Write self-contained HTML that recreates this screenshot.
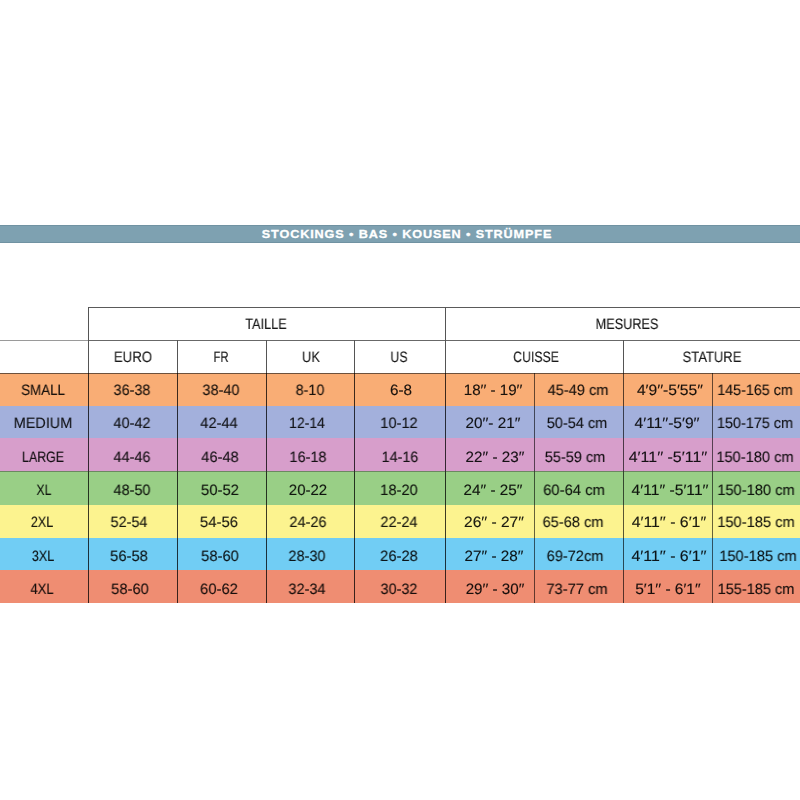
<!DOCTYPE html>
<html><head><meta charset="utf-8"><style>
html,body{margin:0;padding:0;background:#fff;width:800px;height:800px;overflow:hidden;position:relative}
div{position:absolute}
.t{position:absolute;width:300px;height:20px;line-height:20px;text-align:center;white-space:nowrap;text-rendering:geometricPrecision;font-family:"Liberation Sans",sans-serif;transform-origin:150px 50%;color:rgba(0,0,0,0.9);-webkit-text-stroke:0.2px rgba(0,0,0,0.65);will-change:transform}
.ban{position:absolute;left:106.6px;-webkit-text-stroke:0.3px #fff;width:600px;top:226px;height:16px;line-height:16px;text-align:center;color:#fff;font-family:"Liberation Sans",sans-serif;font-weight:bold;font-size:11.5px;letter-spacing:0.8px;transform:scaleX(1.1);transform-origin:300px 50%}
</style></head><body>
<div style="left:0px;top:224.7px;width:800px;height:18.1px;background:#7ea1b1;box-shadow:inset 0 1px 0 rgba(60,90,105,0.2),inset 0 -1px 0 rgba(60,90,105,0.2)"></div>
<span class="ban">STOCKINGS • BAS • KOUSEN • STRÜMPFE</span>
<div style="left:0px;top:373.1px;width:800px;height:33.5px;background:#f9ad75;"></div>
<div style="left:0px;top:405.9px;width:800px;height:33px;background:#a3b0dc;"></div>
<div style="left:0px;top:438.2px;width:800px;height:33.9px;background:#d79ecb;"></div>
<div style="left:0px;top:471.4px;width:800px;height:34px;background:#99cf86;"></div>
<div style="left:0px;top:504.7px;width:800px;height:33.9px;background:#fcf38f;"></div>
<div style="left:0px;top:537.9px;width:800px;height:33.2px;background:#71cdf4;"></div>
<div style="left:0px;top:570.4px;width:800px;height:32.3px;background:#ef8d72;"></div>
<div style="left:88px;top:307px;width:712px;height:1px;background:#5a5a5a;"></div>
<div style="left:0px;top:340px;width:88px;height:1px;background:#9a9a9a;"></div>
<div style="left:88px;top:340px;width:712px;height:1px;background:#686868;"></div>
<div style="left:0px;top:372.5px;width:800px;height:1px;background:#4a3a30;opacity:0.8"></div>
<div style="left:88px;top:307px;width:1px;height:66px;background:#555;"></div>
<div style="left:88px;top:373px;width:1px;height:230px;background:rgba(0,0,0,0.76);"></div>
<div style="left:177px;top:340px;width:1px;height:33px;background:#555;"></div>
<div style="left:177px;top:373px;width:1px;height:230px;background:rgba(0,0,0,0.76);"></div>
<div style="left:266px;top:340px;width:1px;height:33px;background:#555;"></div>
<div style="left:266px;top:373px;width:1px;height:230px;background:rgba(0,0,0,0.76);"></div>
<div style="left:354px;top:340px;width:1px;height:33px;background:#555;"></div>
<div style="left:354px;top:373px;width:1px;height:230px;background:rgba(0,0,0,0.76);"></div>
<div style="left:445px;top:307px;width:1px;height:66px;background:#555;"></div>
<div style="left:445px;top:373px;width:1px;height:230px;background:rgba(0,0,0,0.76);"></div>
<div style="left:623px;top:340px;width:1px;height:33px;background:#555;"></div>
<div style="left:623px;top:373px;width:1px;height:230px;background:rgba(0,0,0,0.65);"></div>
<div style="left:534px;top:373px;width:1px;height:230px;background:rgba(0,0,0,0.6);"></div>
<div style="left:712px;top:373px;width:1px;height:230px;background:rgba(0,0,0,0.6);"></div>
<div style="left:0px;top:471px;width:800px;height:1px;background:#333;opacity:0.45"></div>
<span class="t" style="left:115.68px;top:315.20px;font-size:15.0px;transform:scaleX(0.8454)">TAILLE</span>
<span class="t" style="left:477.41px;top:315.20px;font-size:15.0px;transform:scaleX(0.8476)">MESURES</span>
<span class="t" style="left:-17.30px;top:348.00px;font-size:15.0px;transform:scaleX(0.8781)">EURO</span>
<span class="t" style="left:71.13px;top:348.00px;font-size:15.0px;transform:scaleX(0.7467)">FR</span>
<span class="t" style="left:161.40px;top:348.00px;font-size:15.0px;transform:scaleX(0.8499)">UK</span>
<span class="t" style="left:249.06px;top:348.00px;font-size:15.0px;transform:scaleX(0.8219)">US</span>
<span class="t" style="left:385.99px;top:348.00px;font-size:15.0px;transform:scaleX(0.8176)">CUISSE</span>
<span class="t" style="left:561.73px;top:348.00px;font-size:15.0px;transform:scaleX(0.8644)">STATURE</span>
<span class="t" style="left:-106.70px;top:380.80px;font-size:15.0px;transform:scaleX(0.8914)">SMALL</span>
<span class="t" style="left:-107.50px;top:413.90px;font-size:15.0px;transform:scaleX(0.9575)">MEDIUM</span>
<span class="t" style="left:-106.57px;top:447.50px;font-size:15.0px;transform:scaleX(0.8218)">LARGE</span>
<span class="t" style="left:-106.09px;top:481.10px;font-size:15.0px;transform:scaleX(0.8135)">XL</span>
<span class="t" style="left:-107.61px;top:513.20px;font-size:15.0px;transform:scaleX(0.8405)">2XL</span>
<span class="t" style="left:-107.24px;top:546.70px;font-size:15.0px;transform:scaleX(0.8387)">3XL</span>
<span class="t" style="left:-107.96px;top:579.50px;font-size:15.0px;transform:scaleX(0.8730)">4XL</span>
<span class="t" style="left:-18.00px;top:380.80px;font-size:15.0px;transform:scaleX(0.9601)">36-38</span>
<span class="t" style="left:-17.92px;top:413.90px;font-size:15.0px;transform:scaleX(0.9661)">40-42</span>
<span class="t" style="left:-17.86px;top:447.50px;font-size:15.0px;transform:scaleX(0.9653)">44-46</span>
<span class="t" style="left:-18.25px;top:481.10px;font-size:15.0px;transform:scaleX(0.9642)">48-50</span>
<span class="t" style="left:-20.73px;top:513.20px;font-size:15.0px;transform:scaleX(0.9610)">52-54</span>
<span class="t" style="left:-20.85px;top:546.70px;font-size:15.0px;transform:scaleX(0.9826)">56-58</span>
<span class="t" style="left:-19.71px;top:579.50px;font-size:15.0px;transform:scaleX(0.9801)">58-60</span>
<span class="t" style="left:70.87px;top:380.80px;font-size:15.0px;transform:scaleX(0.9666)">38-40</span>
<span class="t" style="left:69.06px;top:413.90px;font-size:15.0px;transform:scaleX(0.9738)">42-44</span>
<span class="t" style="left:69.71px;top:447.50px;font-size:15.0px;transform:scaleX(0.9767)">46-48</span>
<span class="t" style="left:69.50px;top:481.10px;font-size:15.0px;transform:scaleX(0.9890)">50-52</span>
<span class="t" style="left:69.26px;top:513.20px;font-size:15.0px;transform:scaleX(0.9897)">54-56</span>
<span class="t" style="left:69.54px;top:546.70px;font-size:15.0px;transform:scaleX(0.9814)">58-60</span>
<span class="t" style="left:69.22px;top:579.50px;font-size:15.0px;transform:scaleX(0.9863)">60-62</span>
<span class="t" style="left:159.77px;top:380.80px;font-size:15.0px;transform:scaleX(0.9548)">8-10</span>
<span class="t" style="left:157.35px;top:413.90px;font-size:15.0px;transform:scaleX(0.9316)">12-14</span>
<span class="t" style="left:158.11px;top:447.50px;font-size:15.0px;transform:scaleX(0.9663)">16-18</span>
<span class="t" style="left:158.24px;top:481.10px;font-size:15.0px;transform:scaleX(0.9999)">20-22</span>
<span class="t" style="left:157.75px;top:513.20px;font-size:15.0px;transform:scaleX(0.9657)">24-26</span>
<span class="t" style="left:156.86px;top:546.70px;font-size:15.0px;transform:scaleX(0.9659)">28-30</span>
<span class="t" style="left:157.26px;top:579.50px;font-size:15.0px;transform:scaleX(0.9660)">32-34</span>
<span class="t" style="left:250.83px;top:380.80px;font-size:15.0px;transform:scaleX(1.0146)">6-8</span>
<span class="t" style="left:249.16px;top:413.90px;font-size:15.0px;transform:scaleX(0.9728)">10-12</span>
<span class="t" style="left:249.59px;top:447.50px;font-size:15.0px;transform:scaleX(0.9556)">14-16</span>
<span class="t" style="left:249.17px;top:481.10px;font-size:15.0px;transform:scaleX(0.9769)">18-20</span>
<span class="t" style="left:249.15px;top:513.20px;font-size:15.0px;transform:scaleX(0.9653)">22-24</span>
<span class="t" style="left:248.96px;top:546.70px;font-size:15.0px;transform:scaleX(0.9812)">26-28</span>
<span class="t" style="left:249.15px;top:579.50px;font-size:15.0px;transform:scaleX(0.9608)">30-32</span>
<span class="t" style="left:342.90px;top:380.80px;font-size:15.0px;transform:scaleX(1.0096)">18′′ - 19′′</span>
<span class="t" style="left:343.25px;top:413.90px;font-size:15.0px;transform:scaleX(1.0223)">20′′- 21′′</span>
<span class="t" style="left:344.54px;top:447.50px;font-size:15.0px;transform:scaleX(1.0150)">22′′ - 23′′</span>
<span class="t" style="left:342.81px;top:481.10px;font-size:15.0px;transform:scaleX(1.0161)">24′′ - 25′′</span>
<span class="t" style="left:343.59px;top:513.20px;font-size:15.0px;transform:scaleX(1.0343)">26′′ - 27′′</span>
<span class="t" style="left:344.07px;top:546.70px;font-size:15.0px;transform:scaleX(1.0173)">27′′ - 28′′</span>
<span class="t" style="left:344.54px;top:579.50px;font-size:15.0px;transform:scaleX(1.0127)">29′′ - 30′′</span>
<span class="t" style="left:427.78px;top:380.80px;font-size:15.0px;transform:scaleX(0.9738)">45-49 cm</span>
<span class="t" style="left:426.50px;top:413.90px;font-size:15.0px;transform:scaleX(0.9668)">50-54 cm</span>
<span class="t" style="left:424.52px;top:447.50px;font-size:15.0px;transform:scaleX(0.9674)">55-59 cm</span>
<span class="t" style="left:423.84px;top:481.10px;font-size:15.0px;transform:scaleX(0.9854)">60-64 cm</span>
<span class="t" style="left:423.44px;top:513.20px;font-size:15.0px;transform:scaleX(0.9745)">65-68 cm</span>
<span class="t" style="left:425.36px;top:546.70px;font-size:15.0px;transform:scaleX(0.9706)">69-72cm</span>
<span class="t" style="left:427.44px;top:579.50px;font-size:15.0px;transform:scaleX(0.9784)">73-77 cm</span>
<span class="t" style="left:520.17px;top:380.80px;font-size:15.0px;transform:scaleX(1.0397)">4′9′′-5′55′′</span>
<span class="t" style="left:517.48px;top:413.90px;font-size:15.0px;transform:scaleX(1.0390)">4′11′′-5′9′′</span>
<span class="t" style="left:518.46px;top:447.50px;font-size:15.0px;transform:scaleX(1.0629)">4′11′′ -5′11′′</span>
<span class="t" style="left:520.36px;top:481.10px;font-size:15.0px;transform:scaleX(1.0405)">4′11′′ -5′11′′</span>
<span class="t" style="left:519.21px;top:513.20px;font-size:15.0px;transform:scaleX(1.0546)">4′11′′ - 6′1′′</span>
<span class="t" style="left:519.38px;top:546.70px;font-size:15.0px;transform:scaleX(1.0579)">4′11′′ - 6′1′′</span>
<span class="t" style="left:517.95px;top:579.50px;font-size:15.0px;transform:scaleX(1.0311)">5′1′′ - 6′1′′</span>
<span class="t" style="left:604.59px;top:380.80px;font-size:15.0px;transform:scaleX(0.9556)">145-165 cm</span>
<span class="t" style="left:605.13px;top:413.90px;font-size:15.0px;transform:scaleX(0.9618)">150-175 cm</span>
<span class="t" style="left:605.34px;top:447.50px;font-size:15.0px;transform:scaleX(0.9787)">150-180 cm</span>
<span class="t" style="left:606.19px;top:481.10px;font-size:15.0px;transform:scaleX(0.9796)">150-180 cm</span>
<span class="t" style="left:606.11px;top:513.20px;font-size:15.0px;transform:scaleX(0.9801)">150-185 cm</span>
<span class="t" style="left:608.39px;top:546.70px;font-size:15.0px;transform:scaleX(0.9795)">150-185 cm</span>
<span class="t" style="left:606.47px;top:579.50px;font-size:15.0px;transform:scaleX(0.9709)">155-185 cm</span>
</body></html>
